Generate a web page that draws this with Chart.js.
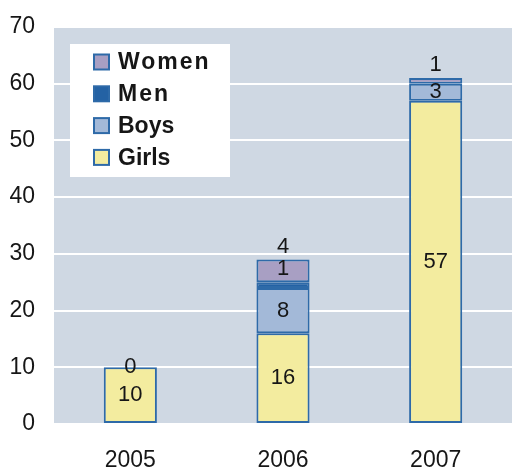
<!DOCTYPE html>
<html>
<head>
<meta charset="utf-8">
<script src="https://cdn.jsdelivr.net/npm/chart.js@4"></script>
<style>
html,body{margin:0;padding:0;background:#fff;}
#wrap{width:512px;height:471px;}
</style>
</head>
<body>
<div id="wrap"><canvas id="c" width="512" height="471"></canvas></div>
<script>
const categories = ['2005', '2006', '2007'];
const girls = [10, 16, 57];
const boys = [0, 8, 3];
const men = [null, 1, null];
const women = [null, 4, 1];
const yTicks = [0, 10, 20, 30, 40, 50, 60, 70];

const FONT = "'Liberation Sans', Arial, sans-serif";
const BORDER = '#2e6aa8';

const datasets = [
  {label: 'Girls', data: girls, backgroundColor: '#f3ec9f', labelPos: 'center'},
  {label: 'Boys', data: boys, backgroundColor: '#a3b9d8', labelPos: 'center'},
  {label: 'Men', data: men, backgroundColor: '#2462a4', labelPos: 'above'},
  {label: 'Women', data: women, backgroundColor: '#a89fc3', labelPos: 'above'}
].map(d => Object.assign(d, {
  borderColor: BORDER, borderWidth: 2, borderSkipped: false,
  categoryPercentage: 1, barPercentage: 0.348
}));

const bgPlugin = {
  id: 'plotBg',
  beforeDraw(chart) {
    const {ctx, chartArea: a} = chart;
    ctx.save();
    ctx.fillStyle = '#cfd8e3';
    ctx.fillRect(a.left, a.top, a.right - a.left, a.bottom - a.top);
    ctx.restore();
  }
};

const labelPlugin = {
  id: 'barLabels',
  afterDatasetsDraw(chart) {
    const {ctx} = chart;
    ctx.save();
    ctx.font = '22px ' + FONT;
    ctx.fillStyle = '#161616';
    ctx.textAlign = 'center';
    ctx.textBaseline = 'middle';
    chart.data.datasets.forEach((ds, i) => {
      const meta = chart.getDatasetMeta(i);
      meta.data.forEach((bar, j) => {
        const v = ds.data[j];
        if (v === null || v === undefined) return;
        let y;
        if (ds.labelPos === 'center') y = (bar.y + bar.base) / 2;
        else y = bar.y - 13;
        ctx.fillText(String(v), bar.x, y);
      });
    });
    ctx.restore();
  }
};

const legendPlugin = {
  id: 'boxLegend',
  afterDraw(chart) {
    const {ctx} = chart;
    ctx.save();
    ctx.fillStyle = '#ffffff';
    ctx.fillRect(70, 44, 160, 133);
    const items = chart.data.datasets.slice().reverse();
    ctx.font = 'bold 23px ' + FONT;
    ctx.textBaseline = 'middle';
    ctx.textAlign = 'left';
    items.forEach((ds, k) => {
      const cy = 62 + k * 31.8;
      ctx.fillStyle = ds.backgroundColor;
      ctx.fillRect(94, cy - 7.5, 15, 15);
      ctx.strokeStyle = BORDER;
      ctx.lineWidth = 2;
      ctx.strokeRect(94, cy - 7.5, 15, 15);
      ctx.fillStyle = '#161616';
      ctx.letterSpacing = (ds.label === 'Women' || ds.label === 'Men') ? '2px' : '0px';
      ctx.fillText(ds.label, 118, cy + 1);
    });
    ctx.restore();
  }
};

new Chart(document.getElementById('c'), {
  type: 'bar',
  data: {labels: categories, datasets},
  plugins: [bgPlugin, labelPlugin, legendPlugin],
  options: {
    responsive: false,
    animation: false,
    layout: {padding: {top: 27, right: 0, left: 0, bottom: 0}},
    plugins: {legend: {display: false}, tooltip: {enabled: false}},
    scales: {
      x: {
        stacked: true,
        grid: {display: false, drawTicks: false},
        border: {display: false},
        ticks: {font: {family: FONT, size: 23}, color: '#161616', padding: 23},
        afterFit(s) { s.height = 47; s.paddingLeft = 0; s.paddingRight = 0; }
      },
      y: {
        stacked: true,
        min: 0, max: 70,
        afterBuildTicks(s) { s.ticks = yTicks.map(v => ({value: v})); },
        grid: {color: '#ffffff', lineWidth: 2, drawTicks: false},
        border: {display: false},
        ticks: {font: {family: FONT, size: 23}, color: '#161616', padding: 19},
        afterFit(s) { s.width = 54; s.paddingTop = 0; s.paddingBottom = 0; }
      }
    }
  }
});
</script>
</body>
</html>
